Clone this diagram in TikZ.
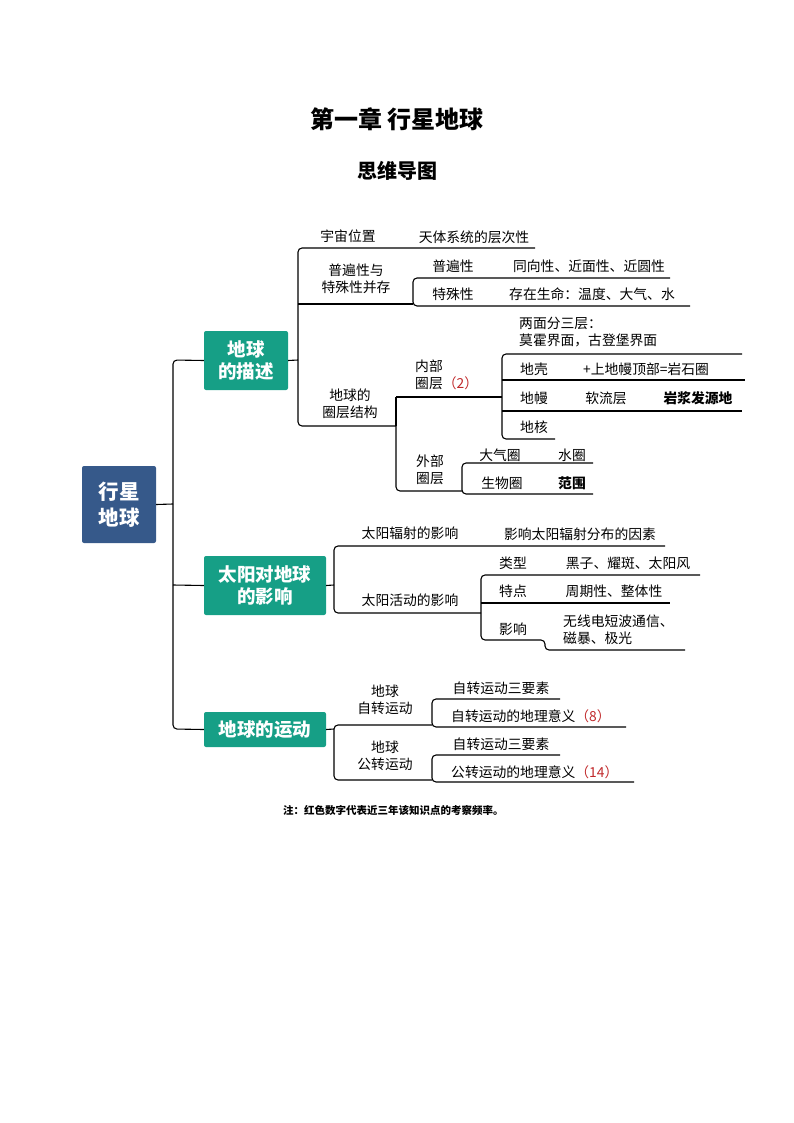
\documentclass[tikz,border=0pt]{standalone}
\usepackage{fontspec}
\setmainfont{Noto Sans CJK SC}
\definecolor{teal1}{HTML}{169F86}
\definecolor{navy1}{HTML}{36598A}
\definecolor{red1}{HTML}{C0282A}
\begin{document}
\begin{tikzpicture}[x=1pt,y=-1pt,
  ln/.style={line width=1.1pt,rounded corners=4pt},
  tx/.style={font=\fontsize{13.8}{17.5}\selectfont,inner sep=0pt,align=center},
  txl/.style={tx,anchor=west,align=left},
  box/.style={fill=teal1,rounded corners=2pt,text=white,font=\fontsize{18.5}{22}\selectfont\bfseries,align=center,inner sep=0pt},
]
\useasboundingbox (0,0) rectangle (794,1123);
\node[font=\fontsize{24}{28}\selectfont\bfseries] (t1) at (397,119) {第一章\ 行星地球};
\node[font=\fontsize{20}{24}\selectfont\bfseries] (t2) at (397,171) {思维导图};
% boxes
\node[box,fill=navy1,minimum width=74pt,minimum height=77pt,font=\fontsize{20.5}{26}\selectfont\bfseries] (root) at (119,504.5) {行星\\地球};
\node[box,minimum width=84pt,minimum height=59pt] (b1) at (246,360.5) {地球\\的描述};
\node[box,minimum width=122pt,minimum height=59pt] (b2) at (265,585.5) {太阳对地球\\的影响};
\node[box,minimum width=122pt,minimum height=35pt] (b3) at (265,729.5) {地球的运动};
\draw[ln] (root.east) -- (173,504);
\draw[ln] (b1.west) -- (173,360) -- (173,729) -- (b3.west);
\draw[ln] (173,585) -- (b2.west);
% section 1
\draw[ln] (b1.east) -- (298,360);
\draw[ln] (535,248) -- (298,248) -- (298,426) -- (396,426);
\draw[ln] (298,304) -- (413,304);
\draw[ln] (670,278) -- (413,278) -- (413,306) -- (690,306);
\draw[ln] (396,426) -- (396,397);
\draw[ln] (396,397) -- (502,397);
\draw[ln] (396,426) -- (396,491) -- (462,491);
\draw[ln] (742,354) -- (502,354) -- (502,439) -- (555,439);
\draw[ln] (502,380) -- (745,380);
\draw[ln] (502,411) -- (742,411);
\draw[ln] (593,463) -- (462,463) -- (462,494) -- (593,494);
\node[tx] (a1) at (348,236) {宇宙位置};
\node[tx] (a2) at (474,237) {天体系统的层次性};
\node[tx] (a3) at (356,279) {普遍性与\\特殊性并存};
\node[tx] (a4) at (453,266) {普遍性};
\node[tx] (a5) at (589,266) {同向性、近面性、近圆性};
\node[tx] (a6) at (453,294) {特殊性};
\node[tx] (a7) at (592,294) {存在生命：温度、大气、水};
\node[tx] (a8) at (350,404) {地球的\\圈层结构};
\node[txl] (a9) at (519,332) {两面分三层：\\莫霍界面，古登堡界面};
\node[txl] (a10) at (415,375) {内部\\圈层{\color{red1}（2）}};
\node[tx] (a11) at (534,369) {地壳};
\node[txl] (a12) at (583,369) {+上地幔顶部=岩石圈};
\node[tx] (a13) at (534,398) {地幔};
\node[tx] (a14) at (606,398) {软流层};
\node[tx,font=\fontsize{13.8}{17}\selectfont\bfseries] (a15) at (698,398) {岩浆发源地};
\node[tx] (a16) at (534,427) {地核};
\node[tx] (a17) at (430,470) {外部\\圈层};
\node[tx] (a18) at (500,455) {大气圈};
\node[tx] (a19) at (572,455) {水圈};
\node[tx] (a20) at (502,483) {生物圈};
\node[tx,font=\fontsize{13.8}{17}\selectfont\bfseries] (a21) at (572,483) {范围};
% section 2
\draw[ln] (b2.east) -- (334,585);
\draw[ln] (665,546) -- (334,546) -- (334,613) -- (481,613);
\draw[ln] (700,575) -- (481,575) -- (481,640) -- (545,640) -- (545,650) -- (685,650);
\draw[ln] (481,603) -- (670,603);
\node[tx] (c1) at (410,533) {太阳辐射的影响};
\node[tx] (c2) at (580,534) {影响太阳辐射分布的因素};
\node[tx] (c3) at (410,600) {太阳活动的影响};
\node[tx] (c4) at (513,563) {类型};
\node[tx] (c5) at (628,563) {黑子、耀斑、太阳风};
\node[tx] (c6) at (513,591) {特点};
\node[tx] (c7) at (614,591) {周期性、整体性};
\node[tx] (c8) at (513,629) {影响};
\node[txl] (c9) at (563,629.5) {无线电短波通信、\\磁暴、极光};
% section 3
\draw[ln] (b3.east) -- (334,729);
\draw[ln] (432,725) -- (334,725) -- (334,780) -- (432,780);
\draw[ln] (560,699) -- (432,699) -- (432,727) -- (626,727);
\draw[ln] (560,755) -- (432,755) -- (432,782) -- (634,782);
\node[tx] (d1) at (385,700) {地球\\自转运动};
\node[tx] (d2) at (501,688) {自转运动三要素};
\node[txl] (d3) at (451,716) {自转运动的地理意义{\color{red1}（8）}};
\node[tx] (d4) at (385,756) {地球\\公转运动};
\node[tx] (d5) at (501,744) {自转运动三要素};
\node[txl] (d6) at (451,772) {公转运动的地理意义{\color{red1}（14）}};
\node[anchor=west,inner sep=0pt,font=\fontsize{10.5}{12}\selectfont\bfseries] (note) at (283,810) {注：红色数字代表近三年该知识点的考察频率。};
\end{tikzpicture}
\end{document}
